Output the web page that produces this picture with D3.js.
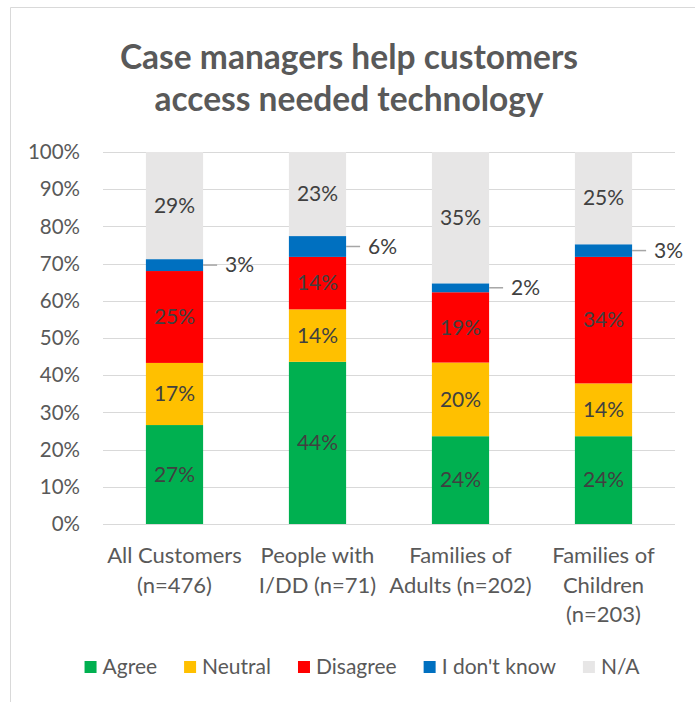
<!DOCTYPE html>
<html>
<head>
<meta charset="utf-8">
<script src="https://cdn.jsdelivr.net/npm/d3@7"></script>
<style>
  body { margin: 0; background: #fff; }
  text { font-family: Lato, "Open Sans", sans-serif; }
</style>
</head>
<body>
<div id="chart"></div>
<script>
// chart data
var categories = [
  ["All Customers", "(n=476)"],
  ["People with", "I/DD (n=71)"],
  ["Families of", "Adults (n=202)"],
  ["Families of", "Children", "(n=203)"]
];
var seriesNames = ["Agree", "Neutral", "Disagree", "I don't know", "N/A"];
var agree = [26.6, 43.6, 23.6, 23.6];
var neutral = [16.7, 14.1, 19.8, 14.2];
var disagree = [24.7, 14.1, 18.9, 34.0];
var dontKnow = [3.2, 5.6, 2.4, 3.4];
var notApplicable = [28.8, 22.6, 35.3, 24.8];
var yTicks = [0, 10, 20, 30, 40, 50, 60, 70, 80, 90, 100];

var seriesValues = [agree, neutral, disagree, dontKnow, notApplicable];
var colors = ["#00b050", "#ffc000", "#ff0000", "#0070c0", "#e7e6e6"];

var width = 695, height = 702;

// rows for the stack
var rows = categories.map(function (c, i) {
  var r = { idx: i };
  seriesNames.forEach(function (s, k) { r[s] = seriesValues[k][i]; });
  return r;
});

var svg = d3.select("#chart").append("svg")
  .attr("width", width)
  .attr("height", height);

// chart frame
svg.append("path")
  .attr("d", "M10.5," + height + "V7.5H" + width)
  .attr("fill", "none")
  .attr("stroke", "#d9d9d9")
  .attr("stroke-width", 1);

// title
svg.append("text")
  .attr("text-anchor", "middle")
  .style("font-size", "33.5px")
  .style("font-weight", "bold")
  .style("fill", "#595959")
  .selectAll("tspan")
  .data(["Case managers help customers", "access needed technology"])
  .enter().append("tspan")
  .attr("x", 349)
  .attr("y", function (d, i) { return 69 + i * 42; })
  .text(function (d) { return d; });

var x = d3.scaleBand()
  .domain(d3.range(categories.length))
  .range([103, 675])
  .paddingInner(0.6)
  .paddingOuter(0.3);

var y = d3.scaleLinear()
  .domain([0, 100])
  .range([524, 152]);

// gridlines
svg.append("g")
  .selectAll("line")
  .data(yTicks)
  .enter().append("line")
  .attr("x1", 103)
  .attr("x2", 675)
  .attr("y1", function (d) { return Math.round(y(d)) + 0.5; })
  .attr("y2", function (d) { return Math.round(y(d)) + 0.5; })
  .attr("stroke", "#d9d9d9")
  .attr("stroke-width", 1);

// y tick labels
svg.append("g")
  .selectAll("text")
  .data(yTicks)
  .enter().append("text")
  .attr("x", 80)
  .attr("y", function (d) { return y(d); })
  .attr("dy", "0.35em")
  .attr("text-anchor", "end")
  .style("font-size", "20.5px")
  .style("fill", "#595959")
  .text(function (d) { return d + "%"; });

// stacked bars
var stack = d3.stack().keys(seriesNames);
var layers = stack(rows);

var layerG = svg.append("g")
  .selectAll("g")
  .data(layers)
  .enter().append("g")
  .attr("fill", function (d, i) { return colors[i]; });

layerG.selectAll("rect")
  .data(function (d) { return d; })
  .enter().append("rect")
  .attr("x", function (d) { return x(d.data.idx); })
  .attr("y", function (d) { return y(d[1]); })
  .attr("width", x.bandwidth())
  .attr("height", function (d) { return y(d[0]) - y(d[1]); });

// data labels
layers.forEach(function (layer, k) {
  var outside = seriesNames[k] === "I don't know";
  layer.forEach(function (d) {
    var v = d[1] - d[0];
    var cy = y((d[0] + d[1]) / 2);
    var label = Math.round(v) + "%";
    if (outside) {
      var x0 = x(d.data.idx) + x.bandwidth();
      svg.append("line")
        .attr("x1", x0)
        .attr("x2", x0 + 14)
        .attr("y1", cy)
        .attr("y2", cy)
        .attr("stroke", "#a6a6a6")
        .attr("stroke-width", 1.5);
      svg.append("text")
        .attr("x", x0 + 22)
        .attr("y", cy)
        .attr("dy", "0.35em")
        .style("font-size", "21px")
        .style("fill", "#404040")
        .text(label);
    } else {
      svg.append("text")
        .attr("x", x(d.data.idx) + x.bandwidth() / 2)
        .attr("y", cy)
        .attr("dy", "0.35em")
        .attr("text-anchor", "middle")
        .style("font-size", "21px")
        .style("fill", "#404040")
        .text(label);
    }
  });
});

// category labels
var catG = svg.append("g")
  .selectAll("text")
  .data(categories)
  .enter().append("text")
  .attr("text-anchor", "middle")
  .style("font-size", "22px")
  .style("fill", "#595959");

catG.selectAll("tspan")
  .data(function (d, i) { return d.map(function (t) { return { t: t, i: i }; }); })
  .enter().append("tspan")
  .attr("x", function (d) { return x(d.i) + x.bandwidth() / 2; })
  .attr("y", function (d, j) { return 563 + j * 29.5; })
  .text(function (d) { return d.t; });

// legend
var legend = svg.append("g");
var items = legend.selectAll("g")
  .data(seriesNames)
  .enter().append("g");

items.append("rect")
  .attr("width", 12)
  .attr("height", 12)
  .attr("y", 661)
  .attr("fill", function (d, i) { return colors[i]; });

items.append("text")
  .attr("x", 18)
  .attr("y", 674)
  .style("font-size", "21px")
  .style("fill", "#595959")
  .text(function (d) { return d; });

var widths = [];
items.each(function () {
  widths.push(18 + d3.select(this).select("text").node().getComputedTextLength());
});
var gap = 27;
var total = d3.sum(widths) + gap * (widths.length - 1);
var start = 362 - total / 2;
items.attr("transform", function (d, i) {
  var off = start + d3.sum(widths.slice(0, i)) + gap * i;
  return "translate(" + off + ",0)";
});
</script>
</body>
</html>
